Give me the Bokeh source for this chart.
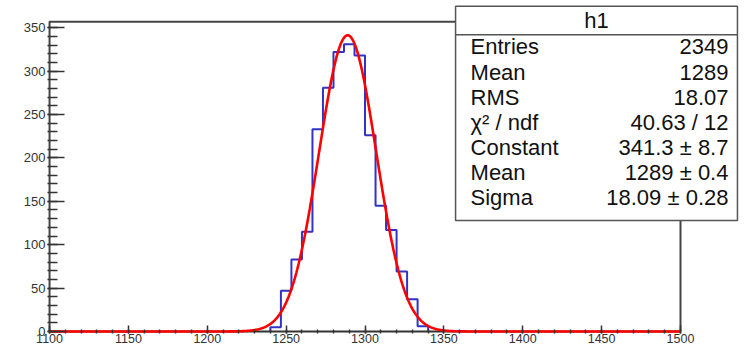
import numpy as np
from bokeh.plotting import figure
from bokeh.models import FixedTicker, Range1d
from bokeh.core.properties import value
from bokeh.embed import file_html
from bokeh.resources import INLINE

# ---- data ----
bin_edges = [1240.0, 1246.67, 1253.33, 1260.0, 1266.67, 1273.33, 1280.0, 1286.67,
             1293.33, 1300.0, 1306.67, 1313.33, 1320.0, 1326.67, 1333.33, 1340.0]
counts = [5, 47, 83, 115, 233, 281, 322, 331, 318, 226, 145, 117, 69, 37, 6]

fit_constant = 341.3
fit_mean = 1289.0
fit_sigma = 18.09

x_ticks = [1100, 1150, 1200, 1250, 1300, 1350, 1400, 1450, 1500]
y_ticks = [0, 50, 100, 150, 200, 250, 300, 350]

box_title = "h1"
stat_names = ["Entries", "Mean", "RMS", "\u03c7\u00b2 / ndf", "Constant", "Mean", "Sigma"]
stat_values = ["2349", "1289", "18.07", "40.63 / 12", "341.3 \u00b1 8.7",
               "1289 \u00b1 0.4", "18.09 \u00b1 0.28"]

# ---- figure ----
x_lo, x_hi = 1100, 1500
y_top = 357
p = figure(width=747, height=345, output_backend="svg", toolbar_location=None,
           x_range=Range1d(1098.7, 1537.4), y_range=Range1d(-2.33, 381.4),
           min_border_left=47, min_border_right=8, min_border_top=0,
           min_border_bottom=0)
p.outline_line_color = None
p.xgrid.visible = False
p.ygrid.visible = False
p.background_fill_color = "white"

FONT = "Liberation Sans"
for ax in (p.xaxis[0], p.yaxis[0]):
    ax.axis_line_color = None
    ax.major_tick_line_color = "#333333"
    ax.minor_tick_line_color = "#333333"
    ax.major_tick_line_width = 1.5
    ax.minor_tick_line_width = 1.5
    ax.major_tick_out = 0
    ax.minor_tick_out = 0
    ax.major_label_text_font = FONT
    ax.major_label_text_color = "#333333"

p.xaxis.ticker = FixedTicker(ticks=x_ticks, minor_ticks=list(range(1100, 1501, 10)))
p.xaxis.major_tick_in = 8
p.xaxis.minor_tick_in = 4
p.xaxis.major_label_text_font_size = "12.5px"
p.xaxis.major_label_standoff = 0

p.yaxis.ticker = FixedTicker(ticks=y_ticks, minor_ticks=list(range(0, 351, 10)))
p.yaxis.major_tick_in = 17
p.yaxis.minor_tick_in = 10
p.yaxis.major_label_text_font_size = "13px"
p.yaxis.major_label_standoff = 2

# frame lines
frame_col = "#444444"
p.line([x_lo, x_lo, x_hi, x_hi], [0, y_top, y_top, 0], line_color=frame_col, line_width=2)
p.line([x_lo, x_hi], [0, 0], line_color="#333333", line_width=2)

# histogram outline (step)
hx, hy = [bin_edges[0]], [0]
for i, c in enumerate(counts):
    hx += [bin_edges[i], bin_edges[i + 1]]
    hy += [c, c]
hx.append(bin_edges[-1])
hy.append(0)
p.line(hx, hy, line_color="#3232c8", line_width=2)

# gaussian fit from the fitted parameters shown in the stats box
fx = np.linspace(x_lo, x_hi, 801)
fy = fit_constant * np.exp(-0.5 * ((fx - fit_mean) / fit_sigma) ** 2)
p.line(fx, fy, line_color="#ff0000", line_width=2.6)

# stats box
bx0, bx1 = 1357.4, 1536.1
by0, by1, bdiv = 127.9, 374.8, 341.9
p.quad(left=[bx0], right=[bx1], bottom=[by0], top=[by1], fill_color="white",
       line_color="#555555", line_width=1.5)
p.line([bx0, bx1], [bdiv, bdiv], line_color="#555555", line_width=1.5)
p.text(x=[(bx0 + bx1) / 2], y=[358.2], text=[box_title], text_align="center",
       text_baseline="alphabetic", text_font=value(FONT), text_font_size="22px",
       text_color="#111111")
row_y = [327.9 - 28.95 * k for k in range(len(stat_names))]
p.text(x=[1366.9] * len(stat_names), y=row_y, text=stat_names, text_align="left",
       text_baseline="alphabetic", text_font=value(FONT), text_font_size="22px",
       text_color="#111111")
p.text(x=[1530.4] * len(stat_values), y=row_y, text=stat_values, text_align="right",
       text_baseline="alphabetic", text_font=value(FONT), text_font_size="22px",
       text_color="#111111")

open("out.html", "w").write(file_html(p, INLINE))
